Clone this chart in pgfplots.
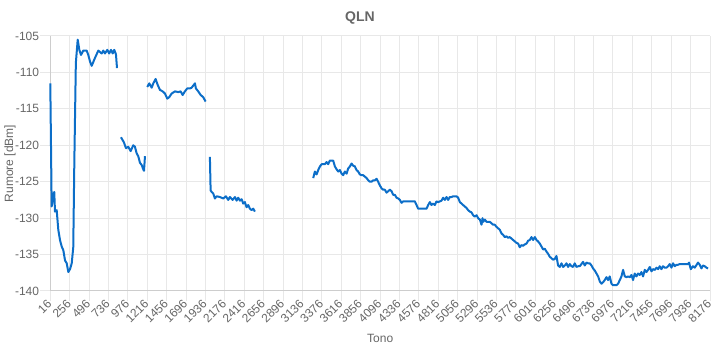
\documentclass[border=0pt]{standalone}
\usepackage{pgfplots}
\pgfplotsset{compat=1.18}
\usepackage{fontspec}
\setmainfont{Liberation Sans}
\definecolor{txt}{RGB}{102,102,102}
\definecolor{grd}{RGB}{232,232,232}
\definecolor{axl}{RGB}{205,205,205}
\definecolor{ln}{RGB}{12,110,200}
\begin{document}
\begin{tikzpicture}
\begin{axis}[
  scale only axis, width=659.7pt, height=255pt,
  at={(0,0)}, anchor=south west,
  xmin=16, xmax=8176, ymin=-140, ymax=-105,
  xtick={16,256,496,736,976,1216,1456,1696,1936,2176,2416,2656,2896,3136,3376,3616,3856,4096,4336,4576,4816,5056,5296,5536,5776,6016,6256,6496,6736,6976,7216,7456,7696,7936,8176},
  xticklabels={16,256,496,736,976,1216,1456,1696,1936,2176,2416,2656,2896,3136,3376,3616,3856,4096,4336,4576,4816,5056,5296,5536,5776,6016,6256,6496,6736,6976,7216,7456,7696,7936,8176},
  ytick={-140,-135,-130,-125,-120,-115,-110,-105},
  yticklabels={-140,-135,-130,-125,-120,-115,-110,-105},
  grid=major, grid style={grd, line width=1pt},
  axis lines*=left, axis line style={-, axl, line width=1pt},
  tick style={grd, line width=1pt},
  tick align=outside, major tick length=10pt,
  ticklabel style={font=\fontsize{12}{14}\selectfont, text=txt},
  yticklabel style={anchor=east, inner sep=1pt},
  xticklabel style={rotate=45, anchor=east, inner sep=1pt},
  clip=false,
]
\addplot[ln, line width=2pt, line join=round] coordinates {
(16,-111.5) (33,-128.4) (50,-127.0) (65,-126.4) (74,-129.1) (95,-128.9) (115,-131.6) (136,-133.0) (157,-133.9) (177,-134.4) (198,-135.8) (219,-136.2) (239,-137.4) (260,-137.0) (281,-136.2) (300,-134.0) (313,-122.5) (332,-108.7) (355,-105.5) (375,-106.9) (396,-107.6) (424,-107.0) (466,-107.0) (486,-107.6) (507,-108.5) (528,-109.1) (569,-108.0) (610,-107.0) (652,-107.4) (671,-107.0) (692,-107.4) (721,-106.9) (745,-107.4) (767,-106.9) (788,-107.4) (807,-106.9) (828,-107.5) (841,-109.4)
};
\addplot[ln, line width=2pt, line join=round] coordinates {
(890,-118.9) (927,-119.6) (952,-120.4) (980,-120.2) (1010,-120.8) (1042,-120.0) (1063,-120.2) (1084,-121.1) (1104,-121.5) (1125,-122.4) (1146,-122.7) (1166,-123.3) (1175,-123.5) (1187,-121.5)
};
\addplot[ln, line width=2pt, line join=round] coordinates {
(1215,-112.0) (1240,-111.5) (1270,-112.1) (1290,-111.5) (1319,-110.9) (1344,-111.7) (1372,-112.4) (1406,-112.6) (1434,-112.9) (1463,-113.6) (1487,-113.4) (1517,-112.9) (1558,-112.6) (1599,-112.7) (1628,-112.6) (1653,-113.1) (1681,-112.6) (1710,-112.2) (1743,-112.2) (1764,-112.1) (1805,-111.5) (1817,-112.2) (1846,-112.6) (1876,-113.1) (1908,-113.4) (1937,-114.0)
};
\addplot[ln, line width=2pt, line join=round] coordinates {
(1990,-121.6) (1999,-126.2) (2011,-126.4) (2031,-126.6) (2052,-127.3) (2073,-127.0) (2114,-127.1) (2155,-127.3) (2188,-127.0) (2217,-127.5) (2238,-127.1) (2271,-127.5) (2300,-127.1) (2321,-127.6) (2340,-127.2) (2362,-127.6) (2383,-127.4) (2402,-128.0) (2423,-127.8) (2444,-128.5) (2464,-128.2) (2485,-128.7) (2506,-128.9) (2526,-128.7) (2547,-129.1)
};
\addplot[ln, line width=2pt, line join=round] coordinates {
(3268,-124.5) (3289,-123.6) (3310,-124.0) (3330,-123.4) (3351,-122.9) (3372,-122.6) (3412,-122.6) (3433,-122.3) (3453,-122.6) (3474,-122.1) (3515,-122.1) (3536,-122.9) (3557,-123.3) (3577,-123.6) (3598,-123.4) (3619,-123.9) (3639,-124.1) (3660,-123.6) (3681,-123.9) (3700,-123.2) (3722,-122.9) (3742,-122.5) (3762,-122.8) (3783,-122.9) (3804,-123.4) (3824,-123.6) (3845,-124.0) (3866,-124.1) (3886,-124.1) (3907,-124.3) (3928,-124.5) (3948,-124.8) (3969,-125.0) (3990,-125.0) (4010,-124.8) (4031,-124.8) (4052,-124.6) (4071,-125.0) (4092,-125.5) (4113,-125.9) (4133,-126.1) (4154,-126.1) (4175,-126.5) (4196,-126.3) (4216,-126.1) (4237,-126.3) (4257,-126.8) (4278,-126.8) (4299,-127.2) (4320,-127.3) (4340,-127.5) (4361,-127.9) (4380,-127.7) (4525,-127.7) (4546,-128.2) (4566,-128.7) (4670,-128.7) (4690,-128.2) (4711,-127.8) (4731,-128.2) (4751,-128.0) (4772,-128.2) (4793,-127.7) (4814,-127.8) (4834,-127.7) (4855,-127.6) (4875,-127.2) (4896,-127.5) (4917,-127.1) (4937,-127.5) (4958,-127.1) (4979,-127.1) (4999,-127.0) (5041,-127.0) (5061,-127.2) (5082,-127.8) (5103,-128.0) (5122,-128.2) (5143,-128.4) (5164,-128.6) (5184,-128.9) (5205,-129.1) (5225,-129.2) (5246,-129.6) (5267,-129.8) (5288,-129.6) (5308,-130.0) (5329,-130.2) (5350,-130.9) (5362,-130.0) (5372,-130.5) (5391,-130.2) (5411,-130.5) (5432,-130.5) (5452,-130.5) (5473,-130.7) (5493,-130.9) (5514,-130.9) (5535,-131.2) (5556,-131.4) (5576,-131.6) (5597,-132.1) (5617,-132.3) (5638,-132.6) (5659,-132.5) (5679,-132.7) (5700,-132.6) (5720,-132.8) (5741,-133.0) (5762,-133.2) (5783,-133.4) (5803,-133.5) (5823,-134.0) (5844,-133.7) (5864,-133.8) (5885,-133.6) (5906,-133.5) (5926,-133.1) (5947,-133.0) (5968,-132.6) (5988,-133.0) (6009,-132.6) (6030,-133.0) (6050,-133.2) (6071,-133.5) (6092,-133.9) (6112,-134.3) (6132,-134.2) (6154,-134.6) (6174,-134.9) (6194,-135.3) (6215,-135.5) (6235,-135.7) (6256,-135.6) (6277,-135.2) (6297,-136.5) (6318,-136.7) (6339,-136.2) (6359,-136.7) (6380,-136.5) (6401,-136.2) (6421,-136.7) (6442,-136.3) (6462,-136.6) (6482,-136.7) (6503,-136.2) (6524,-136.7) (6545,-136.6) (6565,-136.6) (6586,-136.3) (6606,-136.0) (6627,-136.5) (6648,-136.1) (6668,-136.2) (6689,-136.2) (6710,-136.5) (6730,-136.9) (6751,-137.2) (6772,-137.6) (6792,-138.0) (6813,-138.7) (6834,-139.0) (6853,-138.8) (6874,-138.5) (6895,-138.1) (6915,-138.5) (6936,-138.0) (6957,-139.0) (6977,-139.2) (6998,-139.2) (7019,-139.2) (7039,-139.0) (7060,-138.5) (7081,-138.0) (7101,-137.1) (7122,-138.0) (7143,-138.1) (7163,-138.0) (7184,-138.1) (7205,-137.8) (7224,-138.5) (7245,-137.6) (7266,-138.0) (7286,-137.6) (7307,-137.8) (7328,-137.4) (7348,-138.0) (7369,-137.1) (7390,-137.4) (7410,-137.1) (7431,-136.7) (7452,-137.3) (7472,-137.0) (7493,-137.1) (7514,-136.8) (7534,-137.0) (7554,-136.6) (7575,-137.0) (7595,-136.6) (7616,-136.8) (7637,-136.8) (7658,-136.6) (7678,-136.3) (7699,-136.8) (7719,-136.2) (7740,-136.6) (7761,-136.4) (7781,-136.4) (7802,-136.3) (7904,-136.3) (7917,-136.1) (7938,-137.0) (7966,-136.6) (7987,-136.8) (8028,-136.1) (8049,-136.4) (8070,-136.9) (8090,-136.5) (8111,-136.6) (8132,-136.8) (8152,-136.9)
};
\end{axis}
\node[text=txt, font=\bfseries\fontsize{14}{16}\selectfont] at (309.7pt,273pt) {QLN};
\node[text=txt, font=\fontsize{12}{14}\selectfont] at (329.9pt,-47pt) {Tono};
\node[text=txt, font=\fontsize{12}{14}\selectfont, rotate=90] at (-40.3pt,127.5pt) {Rumore [dBm]};
\pgfresetboundingbox
\path[use as bounding box] (-50.3pt,-59pt) rectangle (669.7pt,291pt);
\end{tikzpicture}
\end{document}
